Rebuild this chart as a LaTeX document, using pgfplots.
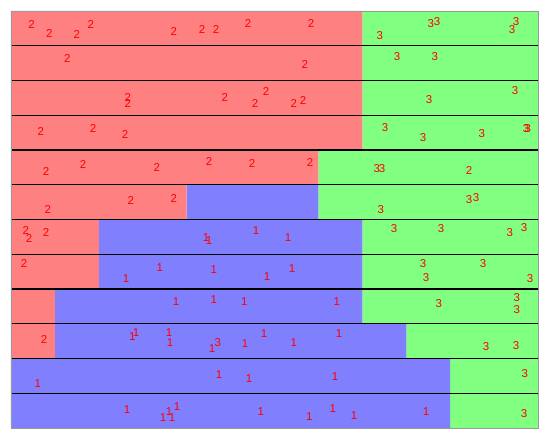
\documentclass[border=0pt]{standalone}
\usepackage{pgfplots}
\pgfplotsset{compat=1.18}
\usepackage{fontspec}
\setmainfont{Liberation Sans}
\definecolor{cR}{HTML}{FF8080}
\definecolor{cB}{HTML}{8080FF}
\definecolor{cG}{HTML}{80FF80}
\pgfplotsset{lab/.style={red, only marks, mark=text, text mark as node=true, text mark style={text=red, font=\fontsize{11.5}{11.5}\selectfont, inner sep=0pt}}}
\begin{document}
\begin{tikzpicture}
\begin{axis}[
  scale only axis, width=527bp, height=417bp,
  xmin=0, xmax=12, ymin=0, ymax=12,
  xbar stacked, bar width=1,
  xtick=\empty, ytick={1,...,11}, yticklabels={},
  major tick length=0pt,
  ymajorgrids, major grid style={black, line width=1.4pt},
  axis line style={gray!80, line width=0.8pt},
  axis on top,
  clip=false,
]
\addplot[fill=cR, draw=none] coordinates {(8,11.5) (8,10.5) (8,9.5) (8,8.5) (7,7.5) (4,6.5) (2,5.5) (2,4.5) (1,3.5) (1,2.5) (0,1.5) (0,0.5)};
\addplot[fill=cB, draw=none] coordinates {(0,11.5) (0,10.5) (0,9.5) (0,8.5) (0,7.5) (3,6.5) (6,5.5) (6,4.5) (7,3.5) (8,2.5) (10,1.5) (10,0.5)};
\addplot[fill=cG, draw=none] coordinates {(4,11.5) (4,10.5) (4,9.5) (4,8.5) (5,7.5) (5,6.5) (4,5.5) (4,4.5) (4,3.5) (3,2.5) (2,1.5) (2,0.5)};
\end{axis}
\begin{axis}[
  scale only axis, width=527bp, height=417bp,
  xmin=0, xmax=12, ymin=0, ymax=12,
  axis lines=none, clip=false,
]
\addplot[lab, text mark={2}] coordinates {
(0.47,11.6) (0.87,11.34) (1.50,11.31) (1.82,11.60) (3.71,11.42) (4.35,11.48) (4.67,11.48) (5.40,11.63) (6.83,11.63)
(1.28,10.62) (6.69,10.47)
(2.66,9.50) (2.66,9.35) (4.87,9.50) (5.56,9.35) (5.81,9.67) (6.44,9.35) (6.65,9.41)
(0.68,8.52) (1.87,8.61) (2.60,8.46)
(0.80,7.37) (1.64,7.57) (3.32,7.51) (4.51,7.68) (5.49,7.60) (6.81,7.65) (10.43,7.40)
(0.84,6.30) (2.73,6.56) (3.71,6.59)
(0.34,5.67) (0.41,5.44) (0.80,5.64)
(0.30,4.72) (0.75,2.56)
};
\addplot[lab, text mark={1}] coordinates {
(4.44,5.47) (4.51,5.38) (5.58,5.67) (6.31,5.47)
(2.62,4.29) (3.39,4.63) (4.62,4.55) (5.83,4.35) (6.40,4.58)
(3.76,3.65) (4.62,3.71) (5.31,3.65) (7.42,3.65)
(2.76,2.62) (2.85,2.76) (3.60,2.76) (3.62,2.47) (4.58,2.30) (5.33,2.42) (5.76,2.73) (6.44,2.47) (7.47,2.71)
(0.61,1.29) (4.74,1.53) (5.42,1.41) (7.38,1.47)
(2.64,0.52) (3.46,0.29) (3.60,0.46) (3.67,0.29) (3.78,0.63) (5.69,0.46) (6.79,0.32) (7.33,0.55) (7.81,0.37) (9.45,0.46)
};
\addplot[lab, text mark={3}] coordinates {
(8.40,11.28) (9.56,11.63) (9.70,11.71) (11.41,11.48) (11.50,11.71)
(8.79,10.68) (9.65,10.68)
(9.52,9.44) (11.48,9.70)
(8.52,8.66) (9.38,8.35) (10.72,8.46) (11.73,8.63) (11.77,8.63)
(8.33,7.48) (8.45,7.48)
(8.42,6.30) (10.43,6.56) (10.59,6.62)
(8.72,5.73) (9.79,5.73) (11.36,5.61) (11.68,5.76)
(9.38,4.72) (9.45,4.32) (10.75,4.72) (11.82,4.29)
(9.74,3.57) (11.52,3.74) (11.52,3.42)
(4.71,2.47) (10.82,2.33) (11.50,2.36)
(11.70,1.58) (11.68,0.43)
};
\end{axis}
\path (current axis.south west) ++(-11bp,-9bp) coordinate (bbA);
\path (current axis.north east) ++(12bp,11bp) coordinate (bbB);
\useasboundingbox (bbA) rectangle (bbB);
\end{tikzpicture}
\end{document}
